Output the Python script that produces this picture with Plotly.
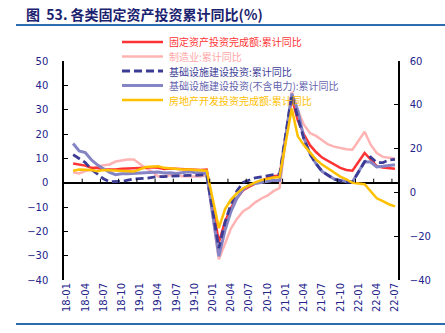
import plotly.graph_objects as go

# Monthly categories 2018-01 .. 2022-07 (January values are not published: Jan-Feb is reported together)
months = [f"{y:02d}-{m:02d}" for y in range(18, 23) for m in range(1, 13)][:55]
tick_labels = ["18-01", "18-04", "18-07", "18-10", "19-01", "19-04", "19-07", "19-10",
               "20-01", "20-04", "20-07", "20-10", "21-01", "21-04", "21-07", "21-10",
               "22-01", "22-04", "22-07"]

# 固定资产投资完成额:累计同比 (%)
fai = [None, 7.9, 7.5, 7.0, 6.1, 6.0, 5.5, 5.3, 5.4, 5.7, 5.9, 5.9,
       None, 6.1, 6.3, 6.1, 5.6, 5.8, 5.7, 5.5, 5.4, 5.2, 5.2, 5.4,
       None, -24.5, -16.1, -10.3, -6.3, -3.1, -1.6, -0.3, 0.8, 1.8, 2.6, 2.9,
       None, 35.0, 25.6, 19.9, 15.4, 12.6, 10.3, 8.9, 7.3, 6.1, 5.2, 4.9,
       None, 12.2, 9.3, 6.8, 6.2, 6.1, 5.7]
# 制造业:累计同比
manufacturing = [None, 4.3, 3.8, 4.8, 5.2, 6.8, 7.3, 7.5, 8.7, 9.1, 9.5, 9.5,
                 None, 5.9, 4.6, 2.5, 2.7, 3.0, 3.3, 2.6, 2.5, 2.6, 2.5, 3.1,
                 None, -31.5, -25.2, -18.8, -14.8, -11.7, -10.2, -8.1, -6.5, -5.3, -3.5, -2.2,
                 None, 37.3, 29.8, 23.8, 20.4, 19.2, 17.3, 15.7, 14.8, 14.2, 13.7, 13.5,
                 None, 20.9, 15.6, 12.2, 10.6, 10.4, 9.9]
# 基础设施建设投资:累计同比
infra = [None, 11.5, 10.0, 8.3, 5.5, 3.5, 1.6, 0.4, 0.3, 0.5, 1.0, 1.5,
         None, 1.8, 2.2, 2.5, 2.5, 2.7, 2.8, 2.9, 3.0, 3.0, 3.1, 3.3,
         None, -26.9, -16.4, -8.8, -3.3, 0.1, 1.2, 2.0, 2.4, 3.0, 3.3, 3.4,
         None, 36.0, 26.8, 18.0, 11.8, 7.8, 4.6, 2.9, 1.4, 0.7, 0.2, 0.2,
         None, 8.6, 10.5, 8.3, 8.2, 9.3, 9.6]
# 基础设施建设投资(不含电力):累计同比
infra_ex_power = [None, 16.1, 13.0, 12.4, 9.4, 7.3, 5.7, 4.2, 3.3, 3.7, 3.7, 3.8,
                  None, 4.3, 4.4, 4.4, 4.0, 4.1, 3.8, 4.2, 4.5, 4.2, 4.0, 3.8,
                  None, -30.3, -19.7, -11.8, -6.3, -2.7, -1.0, -0.3, 0.2, 0.7, 1.0, 0.9,
                  None, 36.6, 29.7, 18.4, 11.8, 7.8, 4.6, 2.9, 1.5, 1.0, 0.5, 0.4,
                  None, 8.6, 8.5, 6.5, 6.7, 7.1, 7.4]
# 房地产开发投资完成额:累计同比 (right axis)
real_estate = [None, 9.9, 10.4, 10.3, 10.2, 9.7, 10.2, 10.1, 9.9, 9.7, 9.7, 9.5,
               None, 11.6, 11.8, 11.9, 11.2, 10.9, 10.6, 10.5, 10.5, 10.3, 10.2, 9.9,
               None, -16.3, -7.7, -3.3, -0.3, 1.9, 3.4, 4.6, 5.6, 6.3, 6.8, 7.0,
               None, 38.3, 25.6, 21.6, 18.3, 15.0, 12.7, 10.9, 8.8, 7.2, 6.0, 4.4,
               None, 3.7, 0.7, -2.7, -4.0, -5.4, -6.4]

names = ["固定资产投资完成额:累计同比", "制造业:累计同比", "基础设施建设投资:累计同比",
         "基础设施建设投资(不含电力):累计同比", "房地产开发投资完成额:累计同比"]
colors = ["#FF3333", "#FFB3B3", "#3C3C96", "#8585C6", "#FFC000"]
text_colors = ["#FF3333", "#FFA6A6", "#3C3C96", "#6464AE", "#FFC000"]

W, H = 445, 333
L, R, T, B = 64, 398, 61, 280
NAVY = "#23238A"
RULE = "#2E6CB0"


def px_x(px):
    return (px - L) / (R - L)


def px_y(py):
    return (B - py) / (B - T)


fig = go.Figure()

# draw order: pink underneath, gold on top
fig.add_trace(go.Scatter(x=months, y=manufacturing, mode="lines", connectgaps=True,
                         line=dict(color=colors[1], width=2.5), name=names[1]))
fig.add_trace(go.Scatter(x=months, y=fai, mode="lines", connectgaps=True,
                         line=dict(color=colors[0], width=2.5), name=names[0]))
fig.add_trace(go.Scatter(x=months, y=infra_ex_power, mode="lines", connectgaps=True,
                         line=dict(color=colors[3], width=3), name=names[3]))
fig.add_trace(go.Scatter(x=months, y=infra, mode="lines", connectgaps=True,
                         line=dict(color=colors[2], width=2.8, dash="8px,4px"), name=names[2]))
fig.add_trace(go.Scatter(x=months, y=real_estate, mode="lines", connectgaps=True,
                         line=dict(color=colors[4], width=2.5), name=names[4], yaxis="y2"))

shapes = []
# tick marks along the zero line at 3-month boundaries
for k in range(3, 55, 3):
    shapes.append(dict(type="line", xref="x", yref="y", x0=k - 0.5, x1=k - 0.5,
                       ysizemode="pixel", yanchor=0, y0=0, y1=4,
                       line=dict(color="black", width=1)))
# rules under the title and at the bottom
shapes.append(dict(type="line", xref="paper", yref="paper", x0=px_x(16), x1=px_x(445),
                   y0=px_y(25), y1=px_y(25), line=dict(color=RULE, width=2)))
shapes.append(dict(type="line", xref="paper", yref="paper", x0=px_x(16), x1=px_x(445),
                   y0=px_y(324), y1=px_y(324), line=dict(color=RULE, width=2)))

annotations = [dict(xref="paper", yref="paper", x=px_x(24), y=px_y(14),
                    xanchor="left", yanchor="middle", showarrow=False,
                    text="<b>图  53. 各类固定资产投资累计同比(%)</b>",
                    font=dict(family="Noto Sans CJK SC", size=14, color="#1B2270"))]

# legend drawn as line samples with coloured labels
legend_order = [0, 1, 2, 3, 4]
legend_y = [42, 56.5, 71, 85.5, 100]
for i, py in zip(legend_order, legend_y):
    shapes.append(dict(type="line", xref="paper", yref="paper", x0=px_x(122), x1=px_x(163),
                       y0=px_y(py), y1=px_y(py),
                       line=dict(color=colors[i], width=3 if i in (2, 3) else 2.5,
                                 dash="8px,4px" if i == 2 else "solid")))
    annotations.append(dict(xref="paper", yref="paper", x=px_x(167), y=px_y(py),
                            xanchor="left", yanchor="middle", showarrow=False,
                            text=names[i],
                            font=dict(family="Noto Sans CJK SC", size=10, color=text_colors[i])))

tick_font = dict(family="DejaVu Sans", size=10, color=NAVY)

fig.update_layout(
    width=W, height=H,
    margin=dict(l=L, r=W - R, t=T, b=H - B),
    paper_bgcolor="white", plot_bgcolor="white",
    showlegend=False,
    shapes=shapes, annotations=annotations,
    xaxis=dict(type="category", categoryorder="array", categoryarray=months,
               range=[-0.5, 54.5], tickmode="array", tickvals=tick_labels,
               ticktext=tick_labels, tickangle=-90, tickfont=tick_font,
               showline=False, showgrid=False, zeroline=False, ticks=""),
    yaxis=dict(range=[-40, 50], dtick=10, tickfont=tick_font, showgrid=False,
               showline=True, linecolor="black", linewidth=1.5,
               ticks="inside", ticklen=4, tickcolor="black",
               zeroline=True, zerolinecolor="black", zerolinewidth=1.5,
               ticklabelstandoff=12),
    yaxis2=dict(range=[-40, 60], dtick=20, overlaying="y", side="right",
                tickfont=tick_font, showgrid=False, zeroline=False,
                showline=True, linecolor="black", linewidth=1.5,
                ticks="inside", ticklen=4, tickcolor="black",
                ticklabelstandoff=8),
)

fig.write_html("out.html")
